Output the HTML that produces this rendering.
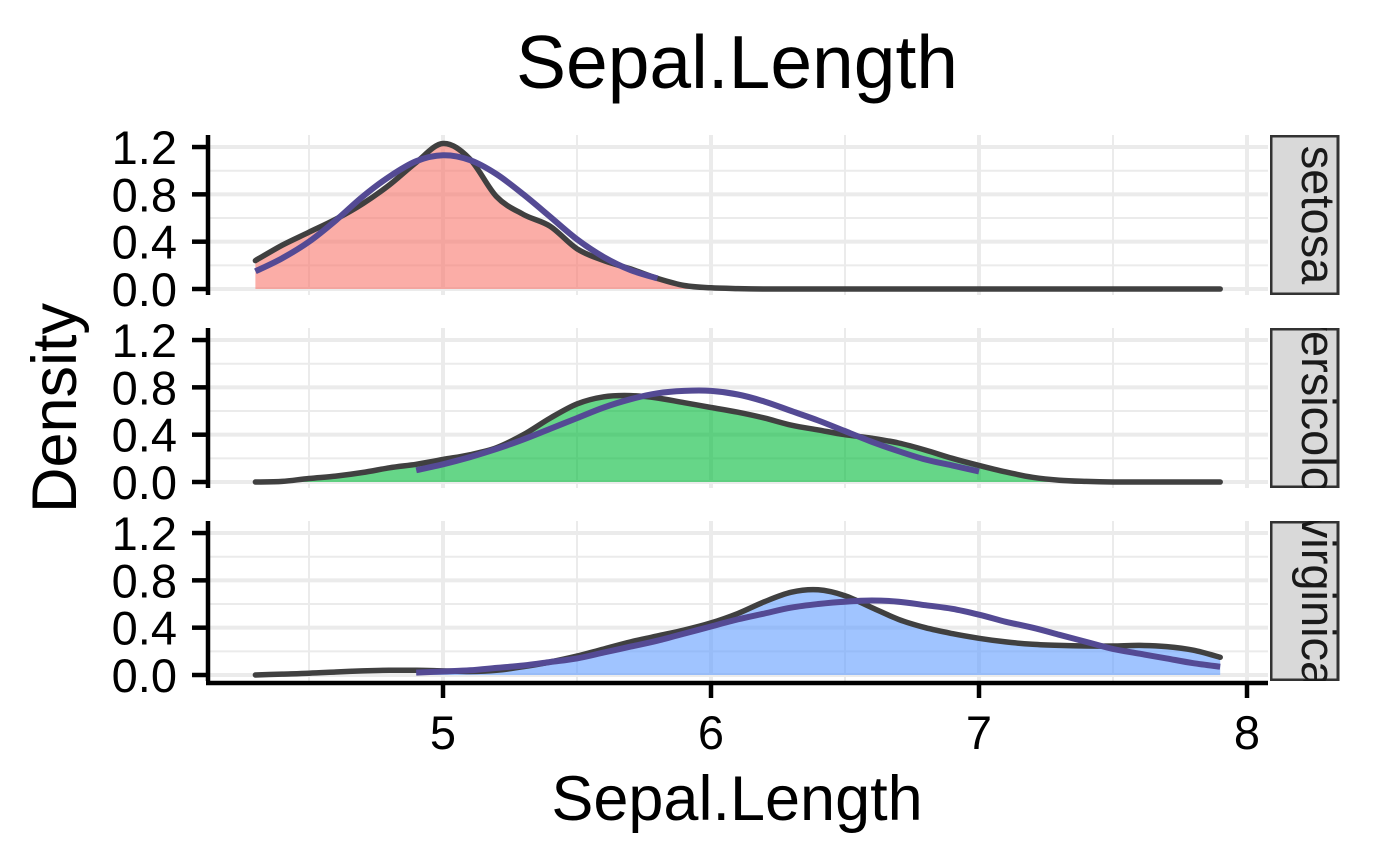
<!DOCTYPE html>
<html><head><meta charset="utf-8"><style>
html,body{margin:0;padding:0;background:#fff;}
svg{display:block;font-family:"Liberation Sans",Arial,sans-serif;}
</style></head><body>
<svg id="chart" width="1400" height="866" viewBox="0 0 1400 866">
<text x="737" y="88" font-size="75" text-anchor="middle">Sepal.Length</text>
<text x="737" y="820" font-size="63" text-anchor="middle">Sepal.Length</text>
<text transform="translate(76,408) rotate(-90)" font-size="63" text-anchor="middle">Density</text>
<g id="plots"></g>
</svg>
<script>
const species = ["setosa", "versicolor", "virginica"];
const gridX = [4.3,4.4,4.5,4.6,4.7,4.8,4.9,5.0,5.1,5.2,5.3,5.4,5.5,5.6,5.7,5.8,5.9,6.0,6.1,6.2,6.3,6.4,6.5,6.6,6.7,6.8,6.9,7.0,7.1,7.2,7.3,7.4,7.5,7.6,7.7,7.8,7.9];
const kdeSetosa = [0.24,0.37,0.48,0.59,0.72,0.88,1.07,1.23,1.10,0.78,0.63,0.53,0.34,0.24,0.17,0.09,0.03,0.01,0.003,0,0,0,0,0,0,0,0,0,0,0,0,0,0,0,0,0,0];
const kdeVersicolor = [0,0.005,0.03,0.05,0.08,0.12,0.15,0.19,0.23,0.29,0.40,0.54,0.66,0.72,0.73,0.71,0.67,0.63,0.59,0.54,0.48,0.44,0.40,0.37,0.33,0.27,0.20,0.14,0.085,0.04,0.015,0.005,0,0,0,0,0];
const kdeVirginica = [0,0.008,0.015,0.025,0.035,0.04,0.04,0.035,0.03,0.04,0.07,0.11,0.16,0.22,0.28,0.33,0.38,0.44,0.52,0.62,0.70,0.72,0.67,0.57,0.47,0.40,0.35,0.31,0.28,0.26,0.25,0.245,0.245,0.25,0.24,0.21,0.15];
const normSetosaX = [4.3,4.4,4.5,4.6,4.7,4.8,4.9,5.0,5.1,5.2,5.3,5.4,5.5,5.6,5.7,5.8];
const normSetosa = [0.15,0.26,0.40,0.58,0.78,0.95,1.08,1.13,1.09,0.97,0.80,0.61,0.42,0.27,0.16,0.09];
const normVersicolorX = [4.9,5.0,5.1,5.2,5.3,5.4,5.5,5.6,5.7,5.8,5.9,6.0,6.1,6.2,6.3,6.4,6.5,6.6,6.7,6.8,6.9,7.0];
const normVersicolor = [0.10,0.15,0.21,0.28,0.36,0.45,0.54,0.63,0.70,0.75,0.77,0.77,0.74,0.68,0.60,0.52,0.43,0.34,0.26,0.19,0.14,0.09];
const normVirginicaX = [4.9,5.0,5.1,5.2,5.3,5.4,5.5,5.6,5.7,5.8,5.9,6.0,6.1,6.2,6.3,6.4,6.5,6.6,6.7,6.8,6.9,7.0,7.1,7.2,7.3,7.4,7.5,7.6,7.7,7.8,7.9];
const normVirginica = [0.02,0.03,0.04,0.06,0.08,0.11,0.14,0.19,0.24,0.29,0.35,0.41,0.47,0.52,0.57,0.60,0.62,0.63,0.62,0.59,0.56,0.51,0.45,0.40,0.34,0.28,0.22,0.18,0.14,0.10,0.07];
const fillStart = [4.3, 4.3, 4.9];
const xTicks = [5, 6, 7, 8];
const xMinor = [4.5, 5.5, 6.5, 7.5];
const yTicks = [0, 0.4, 0.8, 1.2];
const yTickLabels = ["0.0", "0.4", "0.8", "1.2"];
const yMinor = [0.2, 0.6, 1.0];

const NS = "http://www.w3.org/2000/svg";
const kdes = [kdeSetosa, kdeVersicolor, kdeVirginica];
const normXs = [normSetosaX, normVersicolorX, normVirginicaX];
const norms = [normSetosa, normVersicolor, normVirginica];
const fills = ["rgba(248,118,109,0.6)", "rgba(0,186,56,0.6)", "rgba(97,156,255,0.6)"];
const panelTop = [135, 328, 521];
const panelH = 160;
const left = 208, right = 1268;
function xs(v){ return 443 + (v - 5) * 268; }
function ysFor(i){ const base = panelTop[i] + 154; return v => base - v * 118.3; }
function mk(tag, attrs, parent){ const e = document.createElementNS(NS, tag); for (const k in attrs) e.setAttribute(k, attrs[k]); parent.appendChild(e); return e; }
function smooth(pts){
  let d = "M" + pts[0][0].toFixed(1) + "," + pts[0][1].toFixed(1);
  for (let i = 0; i < pts.length - 1; i++){
    const p0 = pts[Math.max(0,i-1)], p1 = pts[i], p2 = pts[i+1], p3 = pts[Math.min(pts.length-1,i+2)];
    const c1x = p1[0] + (p2[0]-p0[0])/6, c1y = p1[1] + (p2[1]-p0[1])/6;
    const c2x = p2[0] - (p3[0]-p1[0])/6, c2y = p2[1] - (p3[1]-p1[1])/6;
    d += " C" + c1x.toFixed(1)+","+c1y.toFixed(1)+" "+c2x.toFixed(1)+","+c2y.toFixed(1)+" "+p2[0].toFixed(1)+","+p2[1].toFixed(1);
  }
  return d;
}
const root = document.getElementById("plots");
const defs = mk("defs", {}, root);
species.forEach((sp, i) => {
  const ys = ysFor(i);
  const top = panelTop[i];
  const g = mk("g", {}, root);
  
  
  yMinor.forEach(v => { const l = mk("line", {x1:left, x2:right, y1:ys(v), y2:ys(v), stroke:"#ebebeb", "stroke-width":2}, g);
      });
  xMinor.forEach(v => { const l = mk("line", {x1:xs(v), x2:xs(v), y1:top, y2:top+panelH, stroke:"#ebebeb", "stroke-width":2}, g);
      });
  yTicks.forEach(v => { const l = mk("line", {x1:left, x2:right, y1:ys(v), y2:ys(v), stroke:"#ebebeb", "stroke-width":4}, g);
      });
  xTicks.forEach(v => { const l = mk("line", {x1:xs(v), x2:xs(v), y1:top, y2:top+panelH, stroke:"#ebebeb", "stroke-width":4}, g);
      });
  const kd = kdes[i];
  const fpts = [];
  gridX.forEach((x, j) => { if (x >= fillStart[i] - 1e-9) fpts.push([xs(x), ys(kd[j])]); });
  const fd = smooth(fpts) + " L" + xs(gridX[gridX.length-1]) + "," + ys(0) + " L" + xs(fillStart[i]) + "," + ys(0) + " Z";
  const fa = mk("path", {d: fd, fill: fills[i], stroke: "none"}, g);
  
  
  const kpts = gridX.map((x, j) => [xs(x), ys(kd[j])]);
  const kl = mk("path", {d: smooth(kpts), fill:"none", stroke:"#404040", "stroke-width":5.5, "stroke-linecap":"round"}, g);
  
  
  const npts = normXs[i].map((x, j) => [xs(x), ys(norms[i][j])]);
  const nl = mk("path", {d: smooth(npts), fill:"none", stroke:"#544a94", "stroke-width":6}, g);
  
  
  const ya = mk("line", {x1:left, x2:left, y1:top, y2:top+panelH, stroke:"#000", "stroke-width":4.5}, g);
  
  
  yTicks.forEach((v, k) => {
    const t = mk("line", {x1:192, x2:left, y1:ys(v), y2:ys(v), stroke:"#000", "stroke-width":4.5}, g);
    
    
    const lb = mk("text", {x:177, y:ys(v)+17, "font-size":47, "text-anchor":"end", fill:"#000"}, g);
    lb.textContent = yTickLabels[k];
    
    
  });
  const cp = mk("clipPath", {id: "clip" + i}, defs);
  mk("rect", {x:1270, y:top, width:70, height:panelH}, cp);
  const sg = mk("g", {"clip-path": "url(#clip" + i + ")"}, g);
  
  
  mk("rect", {x:1271, y:top+1, width:67, height:panelH-2, fill:"#d9d9d9", stroke:"#333", "stroke-width":3}, sg);
  const st = mk("text", {transform:"translate(1302," + (top + panelH/2) + ") rotate(90)", "font-size":47, "text-anchor":"middle", fill:"#1a1a1a"}, sg);
  st.textContent = sp;
  
  
});
const xa = mk("line", {x1:left-2, x2:right, y1:683, y2:683, stroke:"#000", "stroke-width":4.5}, root);


xTicks.forEach(v => {
  const t = mk("line", {x1:xs(v), x2:xs(v), y1:683, y2:698, stroke:"#000", "stroke-width":4.5}, root);
  
  
  const lb = mk("text", {x:xs(v), y:749, "font-size":47, "text-anchor":"middle", fill:"#000"}, root);
  lb.textContent = String(v);
  
  
});
</script>
</body></html>
